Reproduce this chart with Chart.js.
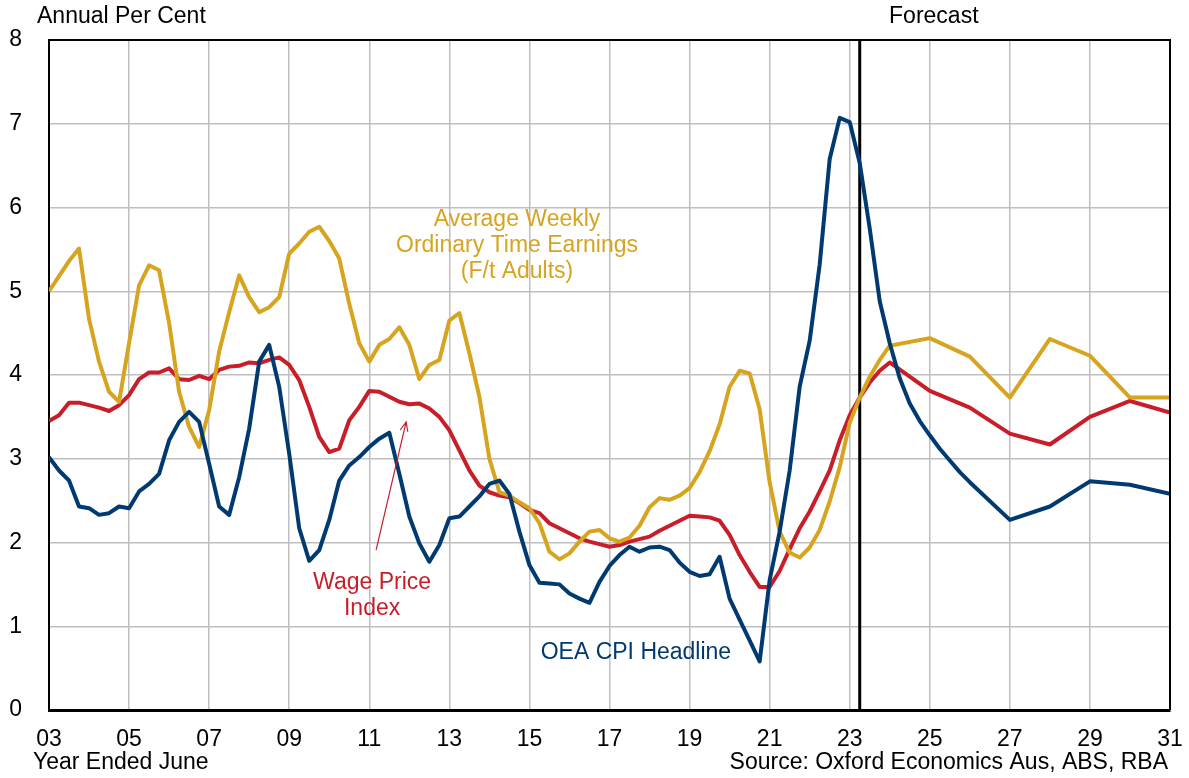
<!DOCTYPE html>
<html lang="en">
<head>
  <meta charset="UTF-8">
  <title>Wages and Prices</title>
  <script src="https://cdn.jsdelivr.net/npm/chart.js"></script>
  <style>
    body { margin: 0; background: #fff; }
    #wrap { width: 1189px; height: 778px; }
  </style>
</head>
<body>
<div id="wrap"><canvas id="wageChart"></canvas></div>

<script>
  // quarterly history, first point is year ended June 2003
  const histStart = 2003;

  const cpiHist = [
    3.02, 2.86, 2.74, 2.43, 2.41, 2.33, 2.35, 2.43, 2.41, 2.61,
    2.70, 2.82, 3.22, 3.44, 3.56, 3.44, 2.94, 2.43, 2.33, 2.78,
    3.36, 4.16, 4.36, 3.86, 3.06, 2.17, 1.78, 1.91, 2.27, 2.74,
    2.92, 3.02, 3.14, 3.24, 3.31, 2.82, 2.31, 1.99, 1.77, 1.97,
    2.29, 2.31, 2.43, 2.55, 2.70, 2.74, 2.58, 2.13, 1.73, 1.52,
    1.51, 1.50, 1.39, 1.33, 1.28, 1.53, 1.72, 1.85, 1.95, 1.89,
    1.94, 1.95, 1.91, 1.76, 1.65, 1.60, 1.62, 1.83, 1.33, 1.08,
    0.83, 0.58, 1.55, 2.13, 2.86, 3.86, 4.41, 5.32, 6.58, 7.07,
    7.02, 6.53
  ];

  const wpiHist = [
    3.45, 3.52, 3.67, 3.67, 3.64, 3.61, 3.57, 3.64, 3.76, 3.95,
    4.03, 4.03, 4.08, 3.95, 3.94, 3.99, 3.95, 4.06, 4.10, 4.11,
    4.15, 4.14, 4.18, 4.21, 4.12, 3.94, 3.62, 3.26, 3.08, 3.12,
    3.46, 3.62, 3.81, 3.80, 3.74, 3.68, 3.65, 3.66, 3.60, 3.50,
    3.34, 3.10, 2.86, 2.68, 2.60, 2.56, 2.54, 2.47, 2.39, 2.35,
    2.23, 2.17, 2.11, 2.05, 2.01, 1.98, 1.95, 1.97, 2.01, 2.04,
    2.07, 2.14, 2.20, 2.26, 2.32, 2.31, 2.30, 2.26, 2.09, 1.85,
    1.65, 1.47, 1.47, 1.66, 1.92, 2.17, 2.37, 2.61, 2.86, 3.22,
    3.52, 3.73
  ];

  const awoteHist = [
    5.00, 5.18, 5.36, 5.51, 4.67, 4.16, 3.80, 3.68, 4.38, 5.07,
    5.31, 5.25, 4.62, 3.80, 3.38, 3.14, 3.58, 4.28, 4.75, 5.19,
    4.93, 4.75, 4.81, 4.93, 5.45, 5.57, 5.71, 5.77, 5.60, 5.39,
    4.85, 4.38, 4.16, 4.36, 4.43, 4.57, 4.36, 3.95, 4.12, 4.18,
    4.65, 4.74, 4.26, 3.74, 3.00, 2.60, 2.56, 2.48, 2.41, 2.23,
    1.89, 1.80, 1.87, 2.01, 2.13, 2.15, 2.05, 2.01, 2.06, 2.20,
    2.42, 2.53, 2.51, 2.56, 2.65, 2.84, 3.09, 3.41, 3.86, 4.05,
    4.02, 3.59, 2.72, 2.13, 1.88, 1.82, 1.94, 2.15, 2.49, 2.90,
    3.43, 3.73
  ];

  // forecasts
  const forecastFrom = 2023.25;
  const cpiFcstYears = [2023.5, 2023.75, 2024, 2024.25, 2024.5, 2024.75, 2025, 2025.25,
                        2025.5, 2025.75, 2026, 2027, 2028, 2029, 2030, 2031];
  const cpiFcst = [5.75, 4.88, 4.38, 3.96, 3.66, 3.45, 3.28, 3.12,
                   2.98, 2.84, 2.72, 2.27, 2.43, 2.73, 2.69, 2.58];

  const wageFcstYears = [2023.5, 2023.75, 2024, 2025, 2026, 2027, 2028, 2029, 2030, 2031];
  const wpiFcst   = [3.91, 4.05, 4.15, 3.81, 3.61, 3.30, 3.17, 3.50, 3.69, 3.55];
  const awoteFcst = [3.98, 4.18, 4.35, 4.44, 4.22, 3.73, 4.43, 4.23, 3.73, 3.73];

  const NAVY = 'rgb(0, 58, 112)';
  const RED = 'rgb(200, 30, 42)';
  const GOLD = 'rgb(214, 164, 30)';
  const FONT = "'Liberation Sans', Arial, sans-serif";

  function series(hist, years, fcst) {
    const pts = hist.map((v, i) => ({ x: histStart + i / 4, y: v }));
    years.forEach((yr, i) => pts.push({ x: yr, y: fcst[i] }));
    return pts;
  }

  function line(label, data, color) {
    return {
      label: label,
      data: data,
      borderColor: color,
      borderWidth: 4,
      pointRadius: 0,
      tension: 0,
      borderJoinStyle: 'round',
      fill: false
    };
  }

  const decorations = {
    id: 'decorations',
    beforeDatasetsDraw(chart) {
      const { ctx, chartArea: a, scales: { x } } = chart;
      const fx = x.getPixelForValue(forecastFrom);
      ctx.save();
      ctx.strokeStyle = '#000';
      ctx.lineWidth = 3;
      ctx.beginPath();
      ctx.moveTo(fx, a.top);
      ctx.lineTo(fx, a.bottom);
      ctx.stroke();
      ctx.restore();
    },
    afterDraw(chart) {
      const { ctx, chartArea: a, scales: { x, y } } = chart;
      ctx.save();

      // top and right edges of the frame
      ctx.strokeStyle = '#000';
      ctx.lineWidth = 2;
      ctx.beginPath();
      ctx.moveTo(a.left, a.top);
      ctx.lineTo(a.right, a.top);
      ctx.lineTo(a.right, a.bottom);
      ctx.stroke();

      ctx.textBaseline = 'middle';
      ctx.font = '23px ' + FONT;
      ctx.fillStyle = '#000';
      ctx.textAlign = 'left';
      ctx.fillText('Annual Per Cent', 37, 17);
      ctx.fillText('Year Ended June', 33, 763);
      ctx.textAlign = 'right';
      ctx.fillText('Source: Oxford Economics Aus, ABS, RBA', 1168, 763);
      ctx.textAlign = 'center';
      ctx.fillText('Forecast', x.getPixelForValue(2025.1), 17);

      // series labels
      ctx.fillStyle = GOLD;
      const ax = x.getPixelForValue(2014.69);
      ctx.fillText('Average Weekly', ax, y.getPixelForValue(5.85));
      ctx.fillText('Ordinary Time Earnings', ax, y.getPixelForValue(5.54));
      ctx.fillText('(F/t Adults)', ax, y.getPixelForValue(5.23));

      ctx.fillStyle = RED;
      const wx = x.getPixelForValue(2011.07);
      ctx.fillText('Wage Price', wx, y.getPixelForValue(1.52));
      ctx.fillText('Index', wx, y.getPixelForValue(1.21));

      ctx.fillStyle = NAVY;
      ctx.fillText('OEA CPI Headline', x.getPixelForValue(2017.66), y.getPixelForValue(0.69));

      // pointer from the WPI label to its line
      const x0 = x.getPixelForValue(2011.17), y0 = y.getPixelForValue(1.91);
      const x1 = x.getPixelForValue(2011.92), y1 = y.getPixelForValue(3.44);
      const ang = Math.atan2(y1 - y0, x1 - x0);
      ctx.strokeStyle = RED;
      ctx.lineWidth = 1.2;
      ctx.beginPath();
      ctx.moveTo(x0, y0);
      ctx.lineTo(x1, y1);
      ctx.moveTo(x1 - 10 * Math.cos(ang - 0.4), y1 - 10 * Math.sin(ang - 0.4));
      ctx.lineTo(x1, y1);
      ctx.lineTo(x1 - 10 * Math.cos(ang + 0.4), y1 - 10 * Math.sin(ang + 0.4));
      ctx.stroke();

      ctx.restore();
    }
  };

  new Chart(document.getElementById('wageChart'), {
    type: 'line',
    data: {
      datasets: [
        line('OEA CPI Headline', series(cpiHist, cpiFcstYears, cpiFcst), NAVY),
        line('Average Weekly Ordinary Time Earnings', series(awoteHist, wageFcstYears, awoteFcst), GOLD),
        line('Wage Price Index', series(wpiHist, wageFcstYears, wpiFcst), RED)
      ]
    },
    options: {
      animation: false,
      responsive: true,
      maintainAspectRatio: false,
      layout: { padding: { left: 0, top: 40, right: 19, bottom: 0 } },
      plugins: {
        legend: { display: false },
        tooltip: { enabled: false }
      },
      scales: {
        x: {
          type: 'linear',
          min: 2003,
          max: 2031,
          afterFit(s) {
            s.height = 68;
            s.paddingLeft = 0;
            s.paddingRight = 0;
          },
          afterBuildTicks(s) {
            s.ticks = [];
            for (let v = 2003; v <= 2031; v += 2) s.ticks.push({ value: v });
          },
          ticks: {
            autoSkip: false,
            maxRotation: 0,
            padding: 16,
            color: '#000',
            font: { family: FONT, size: 23 },
            callback: v => String(v % 100).padStart(2, '0')
          },
          grid: { color: '#bfbfbf', lineWidth: 1.5, drawTicks: false },
          border: { display: true, color: '#000', width: 3 }
        },
        y: {
          min: 0,
          max: 8,
          afterFit(s) {
            s.width = 49;
            s.paddingTop = 0;
            s.paddingBottom = 0;
          },
          ticks: {
            stepSize: 1,
            padding: 27,
            color: '#000',
            font: { family: FONT, size: 23 }
          },
          grid: { color: '#bfbfbf', lineWidth: 1.5, drawTicks: false },
          border: { display: true, color: '#000', width: 2 }
        }
      }
    },
    plugins: [decorations]
  });
</script>
</body>
</html>
